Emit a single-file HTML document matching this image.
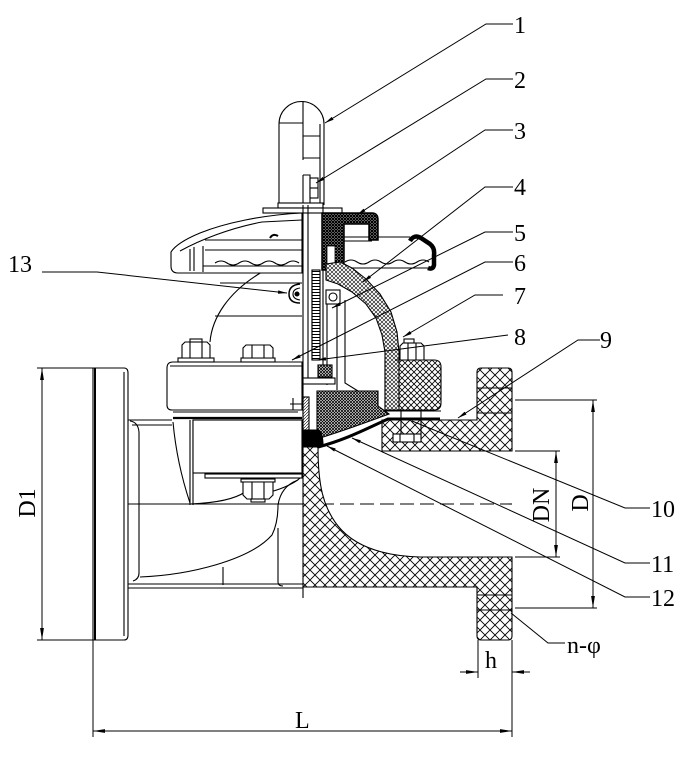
<!DOCTYPE html>
<html><head><meta charset="utf-8"><style>
html,body{margin:0;padding:0;background:#fff;}
svg{display:block}
text{font-family:"Liberation Serif","DejaVu Serif",serif;font-size:24px;fill:#000}
</style></head><body>
<svg width="684" height="759" viewBox="0 0 684 759" xmlns="http://www.w3.org/2000/svg">
<defs>
<pattern id="xh" width="10" height="10" patternUnits="userSpaceOnUse"><rect width="10" height="10" fill="#fff"/><path d="M0,0L10,10M10,0L0,10" stroke="#000" stroke-width="0.9"/></pattern>
<pattern id="mh" width="6" height="6" patternUnits="userSpaceOnUse"><rect width="6" height="6" fill="#fff"/><path d="M0,0L6,6M6,0L0,6" stroke="#000" stroke-width="0.8"/></pattern>
<pattern id="fh" width="4" height="4" patternUnits="userSpaceOnUse"><rect width="4" height="4" fill="#fff"/><path d="M0,0L4,4M4,0L0,4" stroke="#000" stroke-width="0.6"/></pattern>
<pattern id="dh" width="3" height="3" patternUnits="userSpaceOnUse"><rect width="3" height="3" fill="#fff"/><path d="M0,0L3,3M3,0L0,3" stroke="#000" stroke-width="0.8"/></pattern>
<pattern id="bk" width="3" height="3" patternUnits="userSpaceOnUse"><rect width="3" height="3" fill="#fff"/><path d="M0,0L3,3M3,0L0,3" stroke="#000" stroke-width="1.3"/></pattern>
<pattern id="sh" width="3" height="3" patternUnits="userSpaceOnUse"><rect width="3" height="3" fill="#fff"/><path d="M0,3L3,0" stroke="#000" stroke-width="0.6"/></pattern>
<pattern id="rk" width="8" height="3" patternUnits="userSpaceOnUse"><rect width="8" height="3" fill="#fff"/><path d="M0,1.5H8" stroke="#000" stroke-width="1"/></pattern>
<marker id="a" markerWidth="9" markerHeight="4" refX="9" refY="2" orient="auto" markerUnits="userSpaceOnUse"><path d="M0,0.3L9,2L0,3.7Z" fill="#000"/></marker>
<marker id="d" markerWidth="12" markerHeight="5" refX="12" refY="2.5" orient="auto-start-reverse" markerUnits="userSpaceOnUse"><path d="M0,0.6L12,2.5L0,4.4Z" fill="#000"/></marker>
</defs>

<g fill="none" stroke="#000" stroke-width="1.1">
<path d="M93,504H300"/>
<path d="M300,504H512" stroke-dasharray="14,6"/>

<path d="M93,368H124Q128,368 128,373V635Q128,640 124,640H93Z" fill="#fff"/>
<line x1="95" y1="368" x2="95" y2="640" stroke-width="2"/>
<line x1="124" y1="372" x2="124" y2="636"/>
<path d="M128,420H172M132,425H172"/>
<path d="M130,421Q138,422 139,432V573Q139,579 133,581"/>
<path d="M128,584H303M128,588H303"/>
<path d="M140,577C190,575 250,560 272,535C277,525 278,515 278,505C280,492 287,484 298,480"/>
<path d="M278,528V582Q278,586 283,586"/>
<path d="M223,567V585"/>
<path d="M173,422C176,455 184,485 190,503"/>
<path d="M190,420V505M193,420V505"/>
<path d="M190,504C215,503 235,499 245,492"/>
<path d="M270,492C285,488 296,482 300,478"/>

<rect x="193" y="420" width="109" height="53" fill="#fff"/>
<rect x="205" y="474" width="97" height="4" fill="#fff"/>
<rect x="241" y="479" width="34" height="3" fill="#fff"/>
<path d="M243,482H273V495L269,499H247L243,495Z" fill="#fff"/>
<path d="M252,482V499M264,482V499"/>
<rect x="251" y="499" width="14" height="3" fill="#fff"/>

<path d="M167,368Q167,362 173,362H302V410H172Q167,410 167,405Z" fill="#fff"/>
<line x1="170" y1="366" x2="302" y2="366"/>
<path d="M173,412H298"/>
<path d="M173,418H302" stroke-width="2.2"/>
<path d="M290,404H302M293,398V410"/>

<rect x="178" y="358" width="36" height="4" fill="#fff"/>
<path d="M182,358V345L185,342H207L210,345V358Z" fill="#fff"/>
<path d="M190,342V358M202,342V358"/>
<rect x="190" y="339" width="12" height="3" fill="#fff"/>
<rect x="241" y="358" width="34" height="4" fill="#fff"/>
<path d="M243,358V348L246,345H270L273,348V358Z" fill="#fff"/>
<path d="M252,345V358M264,345V358"/>

<path d="M210,342C212,318 228,292 262,272"/>
<path d="M215,316H302"/>
<path d="M220,283H302"/>

<path d="M279,205V124A22.5,22.5 0 0 1 324,124V205" fill="#fff"/>
<path d="M320,124V205"/>
<path d="M303,101V160"/>
<path d="M279,123H303M303,136H320M303,158H320"/>
<path d="M303,175H310V205M303,175V205"/>
<rect x="310" y="178" width="8" height="20" fill="#fff"/>
<path d="M310,188H318"/>
<rect x="278" y="203" width="45" height="5" fill="#fff"/>
<rect x="263" y="208" width="79" height="5" fill="#fff"/>

<path d="M171,252C176,244 188,238 200,233C225,223 262,215 302,213V273H178Q171,273 171,266Z" fill="#fff"/>
<path d="M180,251C200,240 230,228 262,222L302,220"/>
<path d="M205,240H302M205,250H302"/>
<path d="M190,249V271M194,247V271M203,246V272"/>
<path d="M203,266H302"/>
<path d="M215,263q6,-4 12,0q6,4 12,0q6,-4 12,0q6,4 12,0q6,-4 12,0q6,4 12,0q6,-4 12,0"/>
<path d="M270,238q3,-5 8,-2" stroke-width="2"/>

<path d="M343,237H410M343,241H372"/>
<path d="M343,268H428"/>
<path d="M345,262q6,-4 12,0q6,4 12,0q6,-4 12,0q6,4 12,0q6,-4 12,0q6,4 12,0q6,-4 12,0"/>
<path d="M410,241Q414,234 421,238L430,244Q435,248 434,255V265Q433,270 428,268" stroke-width="4.5"/>

<path d="M303,205V447M308,205V380M323,205V370"/>
<rect x="312" y="270" width="8" height="90" fill="url(#rk)"/>
<path d="M312,270V360"/>
<path d="M322,213H372Q378,213 378,220V240H369V224H344V270H322Z" fill="url(#bk)" stroke-width="1.5"/>
<rect x="327" y="246" width="8" height="22" fill="#fff" stroke-width="0.8"/>

<path d="M327,300V385M337,304V390M345,300V383L358,391"/>
<path d="M330,393H357"/>
<rect x="326" y="290" width="14" height="14" fill="#fff"/>
<circle cx="333" cy="297" r="4"/>

<path d="M385,360H434Q441,360 441,367V403Q441,410 434,410H385Z" fill="url(#mh)"/>
<path d="M326,264L340,262L352,268L366,279L380,294L391,312L397,332L399,352V410H385V352L382,335L376,318L366,304L352,292L338,284L326,280Z" fill="url(#fh)"/>
<path d="M382,411H441"/>
<path d="M400,360V346L403,343H421L424,346V360Z" fill="#fff"/>
<path d="M408,343V360M416,343V360"/>
<rect x="404" y="339" width="10" height="4" fill="#fff"/>
<path d="M395,360H430"/>

<rect x="318" y="365" width="14" height="12" fill="url(#dh)"/>
<rect x="303" y="378" width="32" height="6" fill="#fff"/>
<path d="M317,391H378V406L389,414C370,421 346,430 320,438H317Z" fill="url(#dh)"/>
<rect x="303" y="397" width="6" height="33" fill="url(#sh)"/>

<path d="M382,420H477V372Q477,368 481,368H508Q512,368 512,372V451H382Z" fill="url(#xh)"/>
<path d="M303,447V587H477V636Q477,640 481,640H508Q512,640 512,636V557H420C385,556 355,547 338,526C323,507 318,485 318,447Z" fill="url(#xh)"/>
<path d="M477,388H512M477,413H512M477,595H512M477,610H512"/>
<path d="M303,587V598"/>
<path d="M401,410V442M421,410V442"/>
<rect x="393" y="434" width="28" height="8" fill="#fff"/>
<path d="M400,434V442M414,434V442"/>

<path d="M303,430H318Q323,432 323,446H303Z" fill="#000"/>
<path d="M318,447C345,440 366,429 388,419H440" stroke-width="3"/>

<path d="M300,284Q289,285 289,294Q289,303 300,303" stroke-width="1.5"/>
<path d="M300,288Q293,289 293,294Q293,299 300,300"/>
<circle cx="297" cy="294" r="2" fill="#000"/>
</g>

<g fill="none" stroke="#000" stroke-width="1">
<path d="M37,368H93M37,640H93"/>
<line x1="42" y1="368" x2="42" y2="640" marker-start="url(#d)" marker-end="url(#d)"/>
<path d="M515,400H597M515,608H597"/>
<line x1="593" y1="400" x2="593" y2="608" marker-start="url(#d)" marker-end="url(#d)"/>
<path d="M515,451H560M515,557H560"/>
<line x1="556" y1="451" x2="556" y2="557" marker-start="url(#d)" marker-end="url(#d)"/>
<path d="M93,640V737M478,640V678M512,640V737"/>
<line x1="93" y1="731" x2="512" y2="731" marker-start="url(#d)" marker-end="url(#d)"/>
<line x1="460" y1="672" x2="478" y2="672" marker-end="url(#d)"/>
<line x1="530" y1="672" x2="512" y2="672" marker-end="url(#d)"/>
</g>

<g fill="none" stroke="#000" stroke-width="1">
<path d="M513,24H486L325,123" marker-end="url(#a)"/>
<path d="M513,79H486L316,183" marker-end="url(#a)"/>
<path d="M513,130H485L357,215" marker-end="url(#a)"/>
<path d="M513,187H485L363,282" marker-end="url(#a)"/>
<path d="M513,232H485L332,308" marker-end="url(#a)"/>
<path d="M513,262H485L292,360" marker-end="url(#a)"/>
<path d="M503,295H475L403,337" marker-end="url(#a)"/>
<path d="M508,335L317,360" marker-end="url(#a)"/>
<path d="M600,340H578L458,418" marker-end="url(#a)"/>
<path d="M650,508H625L412,421"/>
<path d="M650,563H625L352,438" marker-end="url(#a)"/>
<path d="M650,597H625L327,446" marker-end="url(#a)"/>
<path d="M42,272H97L287,293" marker-end="url(#a)"/>
<path d="M565,643H548L511,613"/>
</g>

<text x="514" y="33">1</text>
<text x="514" y="88">2</text>
<text x="514" y="139">3</text>
<text x="514" y="195">4</text>
<text x="514" y="241">5</text>
<text x="514" y="271">6</text>
<text x="514" y="304">7</text>
<text x="514" y="345">8</text>
<text x="600" y="348">9</text>
<text x="651" y="517">10</text>
<text x="651" y="572">11</text>
<text x="651" y="606">12</text>
<text x="8" y="272">13</text>
<text x="567" y="653">n-φ</text>
<text x="485" y="668">h</text>
<text x="295" y="728">L</text>
<text transform="translate(35,503) rotate(-90)" text-anchor="middle">D1</text>
<text transform="translate(549,505) rotate(-90)" text-anchor="middle">DN</text>
<text transform="translate(588,503) rotate(-90)" text-anchor="middle">D</text>
</svg>
</body></html>
